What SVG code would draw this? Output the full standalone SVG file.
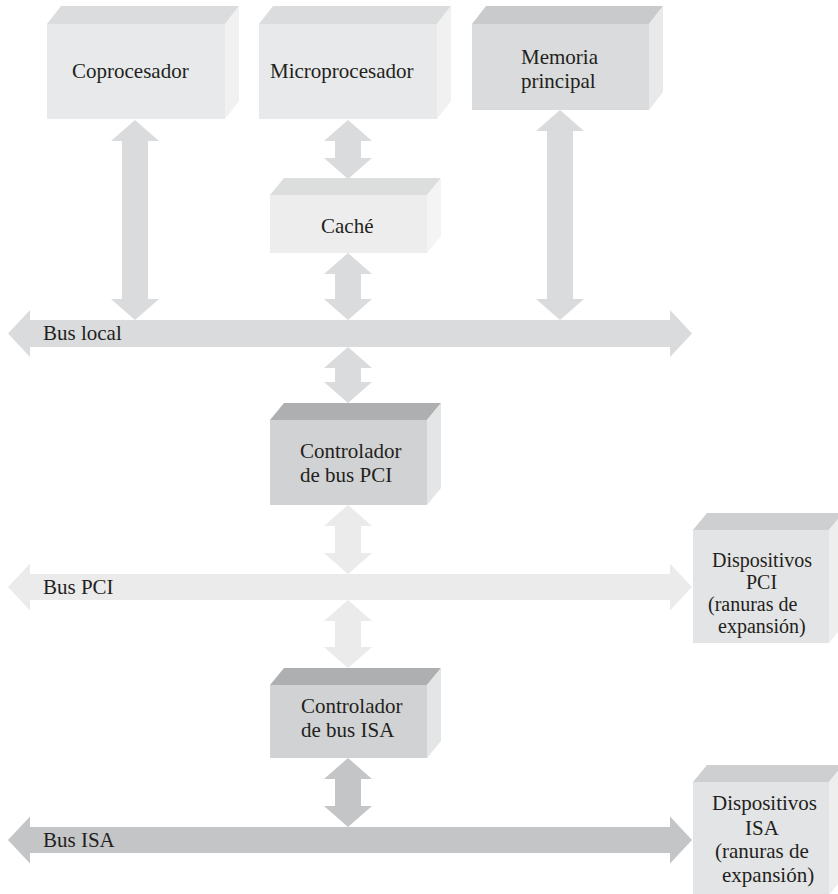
<svg xmlns="http://www.w3.org/2000/svg" width="838" height="894" viewBox="0 0 838 894">
<style>
text{font-family:"Liberation Serif","Times New Roman",serif;font-size:21px;fill:#231f20}
.sm{font-size:20px}
.c1{fill:#dadbdc}.c2{fill:#ebebec}.c3{fill:#c4c5c6}
.lf{fill:#e8e9ea}.lt{fill:#dbdcdd}.ls{fill:#f1f1f2}
.cf{fill:#ededee}.ct{fill:#dcdddd}.cs{fill:#f4f4f5}
.mf{fill:#dadbdc}.mt{fill:#c9cacb}.ms{fill:#e9e9ea}
.kf{fill:#d1d2d3}.kt{fill:#aeafb0}.ks{fill:#e4e5e6}
.df{fill:#e3e4e5}.dt{fill:#cecfd0}.ds{fill:#eeeeef}
</style>
<rect width="838" height="894" fill="#ffffff"/>
<g id="connectors">
<path class="c1" d="M8,333.5 L30,310 L30,320 L670,320 L670,310 L692,333.5 L670,357 L670,347 L30,347 L30,357 Z"/>
<path class="c2" d="M8,587 L30,563.5 L30,574 L670,574 L670,563.5 L692,587 L670,610.5 L670,600 L30,600 L30,610.5 Z"/>
<path class="c3" d="M8,840 L30,816.5 L30,827 L670,827 L670,816.5 L692,840 L670,863.5 L670,853 L30,853 L30,863.5 Z"/>
<path class="c1" d="M135,120 L159,141 L148,141 L148,299 L159,299 L135,320 L111,299 L122,299 L122,141 L111,141 Z"/>
<path class="c1" d="M348,120 L372,141 L361,141 L361,158 L372,158 L348,179 L324,158 L335,158 L335,141 L324,141 Z"/>
<path class="c1" d="M348,253 L372,274 L361,274 L361,299 L372,299 L348,320 L324,299 L335,299 L335,274 L324,274 Z"/>
<path class="c1" d="M560,110 L584,131 L573,131 L573,299 L584,299 L560,320 L536,299 L547,299 L547,131 L536,131 Z"/>
<path class="c1" d="M348,347 L372,368 L361,368 L361,382 L372,382 L348,403 L324,382 L335,382 L335,368 L324,368 Z"/>
<path class="c2" d="M348,505 L372,526 L361,526 L361,553 L372,553 L348,574 L324,553 L335,553 L335,526 L324,526 Z"/>
<path class="c2" d="M348,600 L372,621 L361,621 L361,647 L372,647 L348,668 L324,647 L335,647 L335,621 L324,621 Z"/>
<path class="c3" d="M348,758 L372,779 L361,779 L361,806 L372,806 L348,827 L324,806 L335,806 L335,779 L324,779 Z"/>
</g>
<g id="coprocesador">
<rect class="lf" x="47" y="24" width="178" height="95"/>
<path class="lt" d="M47,24 L61,6 L239,6 L225,24 Z"/>
<path class="ls" d="M225,24 L239,6 L239,101 L225,119 Z"/>
<text x="72" y="78">Coprocesador</text>
</g>
<g id="microprocesador">
<rect class="lf" x="259" y="24" width="178" height="95"/>
<path class="lt" d="M259,24 L273,6 L451,6 L437,24 Z"/>
<path class="ls" d="M437,24 L451,6 L451,101 L437,119 Z"/>
<text x="270" y="78">Microprocesador</text>
</g>
<g id="memoria">
<rect class="mf" x="472" y="24" width="177" height="86"/>
<path class="mt" d="M472,24 L486,6 L663,6 L649,24 Z"/>
<path class="ms" d="M649,24 L663,6 L663,92 L649,110 Z"/>
<text x="521" y="64">Memoria</text>
<text x="521" y="88">principal</text>
</g>
<g id="cache">
<rect class="cf" x="270" y="195" width="157" height="58"/>
<path class="ct" d="M270,195 L284,178 L441,178 L427,195 Z"/>
<path class="cs" d="M427,195 L441,178 L441,236 L427,253 Z"/>
<text x="321" y="233">Caché</text>
</g>
<g id="controlador-pci">
<rect class="kf" x="270" y="420" width="157" height="85"/>
<path class="kt" d="M270,420 L284,403 L441,403 L427,420 Z"/>
<path class="ks" d="M427,420 L441,403 L441,488 L427,505 Z"/>
<text x="300" y="458">Controlador</text>
<text x="300" y="482">de bus PCI</text>
</g>
<g id="controlador-isa">
<rect class="kf" x="270" y="685" width="157" height="73"/>
<path class="kt" d="M270,685 L284,668 L441,668 L427,685 Z"/>
<path class="ks" d="M427,685 L441,668 L441,741 L427,758 Z"/>
<text x="301" y="713">Controlador</text>
<text x="301" y="737">de bus ISA</text>
</g>
<g id="dispositivos-pci">
<rect class="df" x="693" y="530" width="136" height="113"/>
<path class="dt" d="M693,530 L707,513 L843,513 L829,530 Z"/>
<path class="ds" d="M829,530 L843,513 L843,626 L829,643 Z"/>
<text class="sm" x="712" y="567">Dispositivos</text>
<text class="sm" x="746" y="589">PCI</text>
<text class="sm" x="708" y="611">(ranuras de</text>
<text class="sm" x="718" y="633">expansión)</text>
</g>
<g id="dispositivos-isa">
<rect class="df" x="693" y="782" width="136" height="113"/>
<path class="dt" d="M693,782 L707,765 L843,765 L829,782 Z"/>
<path class="ds" d="M829,782 L843,765 L843,878 L829,895 Z"/>
<text x="712" y="810">Dispositivos</text>
<text x="745" y="835">ISA</text>
<text x="715" y="858">(ranuras de</text>
<text x="722" y="882">expansión)</text>
</g>
<g id="labels">
<text x="43" y="340">Bus local</text>
<text x="43" y="594">Bus PCI</text>
<text x="43" y="847">Bus ISA</text>
</g>
</svg>
